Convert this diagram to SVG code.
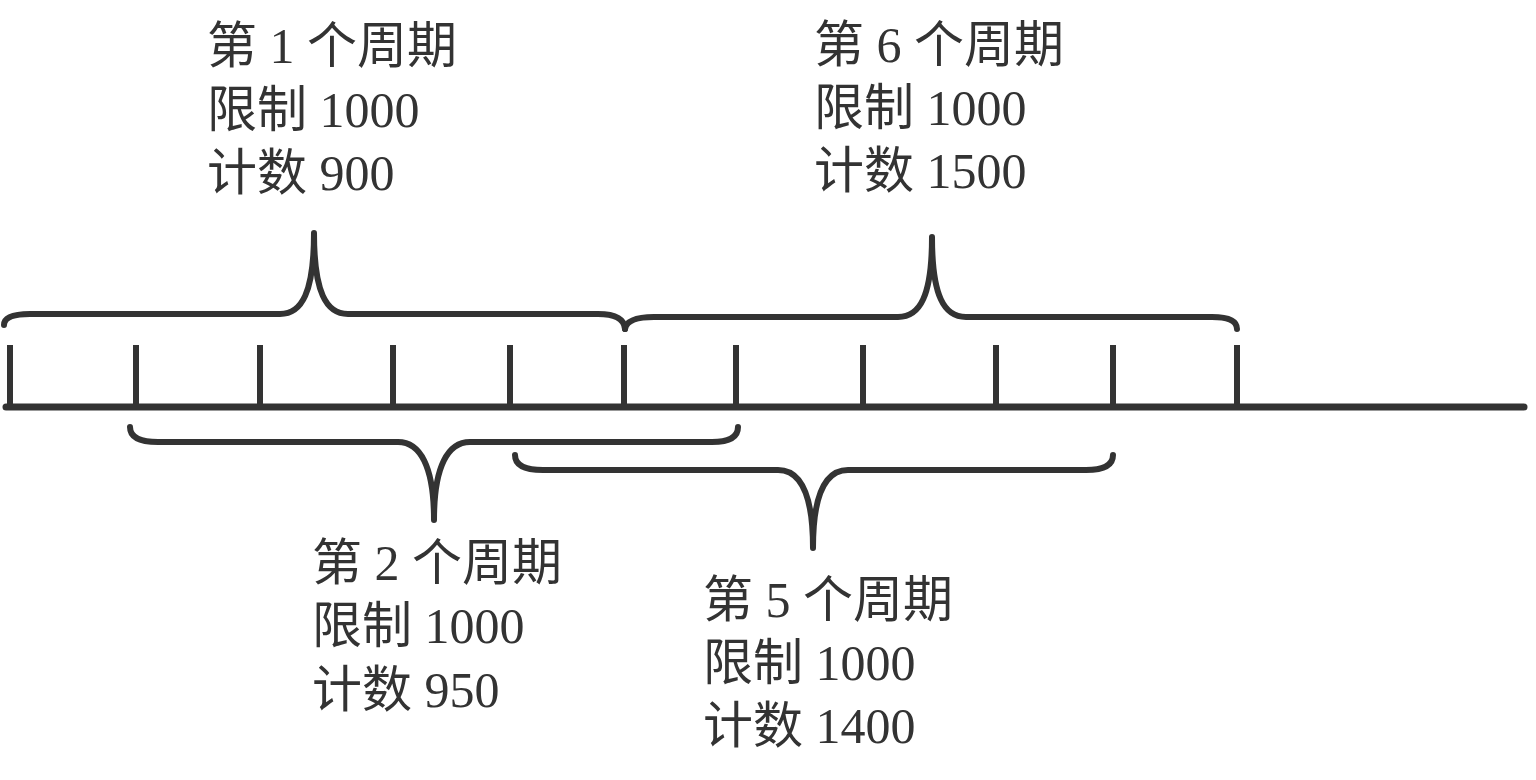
<svg xmlns="http://www.w3.org/2000/svg" width="1536" height="780" viewBox="0 0 1536 780">
<style>
.t{font-family:"Liberation Serif","Noto Sans CJK SC",serif;font-size:50px;fill:#333}
.ln{fill:none;stroke:#333;stroke-linecap:round;stroke-linejoin:round}
.br{stroke-width:6}
.tk{stroke-width:6;stroke-linecap:butt}
</style>
<rect width="1536" height="780" fill="#fff"/>
<g id="axis">
<path class="ln" d="M6,407 L1524,407" stroke-width="7" stroke-linecap="butt"/>
<path class="ln tk" d="M10,345 V410 M136,345 V407 M260,345 V407 M393,345 V407 M510,345 V407 M624,345 V407 M736,345 V407 M863,345 V407 M996,345 V407 M1113,345 V407 M1237,345 V407"/>
</g>
<g id="connectors">
<path class="ln br" d="M4,325 Q4,314 30,314 L280,314 C302,314 314,292 314,233 C314,292 326,314 348,314 L598,314 Q624,314 625,329"/>
<path class="ln br" d="M625,329 Q627,317 654,317 L898,317 C920,317 932,296 932,237 C932,296 944,317 966,317 L1212,317 Q1237,317 1237,329"/>
<path class="ln br" d="M130,427 Q130,442 158,442 L398,442 C420,442 434,466 434,520 C434,466 448,442 470,442 L712,442 Q738,442 738,427"/>
<path class="ln br" d="M515,455 Q515,470 543,470 L778,470 C800,470 813,494 813,548 C813,494 826,470 848,470 L1086,470 Q1113,470 1113,455"/>
</g>
<g id="cycle1">
<text class="t" x="207" y="63">第 1 个周期</text>
<text class="t" x="207" y="127">限制 1000</text>
<text class="t" x="207" y="190">计数 900</text>
</g>
<g id="cycle6">
<text class="t" x="814" y="62">第 6 个周期</text>
<text class="t" x="814" y="125">限制 1000</text>
<text class="t" x="814" y="188">计数 1500</text>
</g>
<g id="cycle2">
<text class="t" x="312" y="580">第 2 个周期</text>
<text class="t" x="312" y="643">限制 1000</text>
<text class="t" x="312" y="707">计数 950</text>
</g>
<g id="cycle5">
<text class="t" x="703" y="617">第 5 个周期</text>
<text class="t" x="703" y="680">限制 1000</text>
<text class="t" x="703" y="743">计数 1400</text>
</g>
</svg>
